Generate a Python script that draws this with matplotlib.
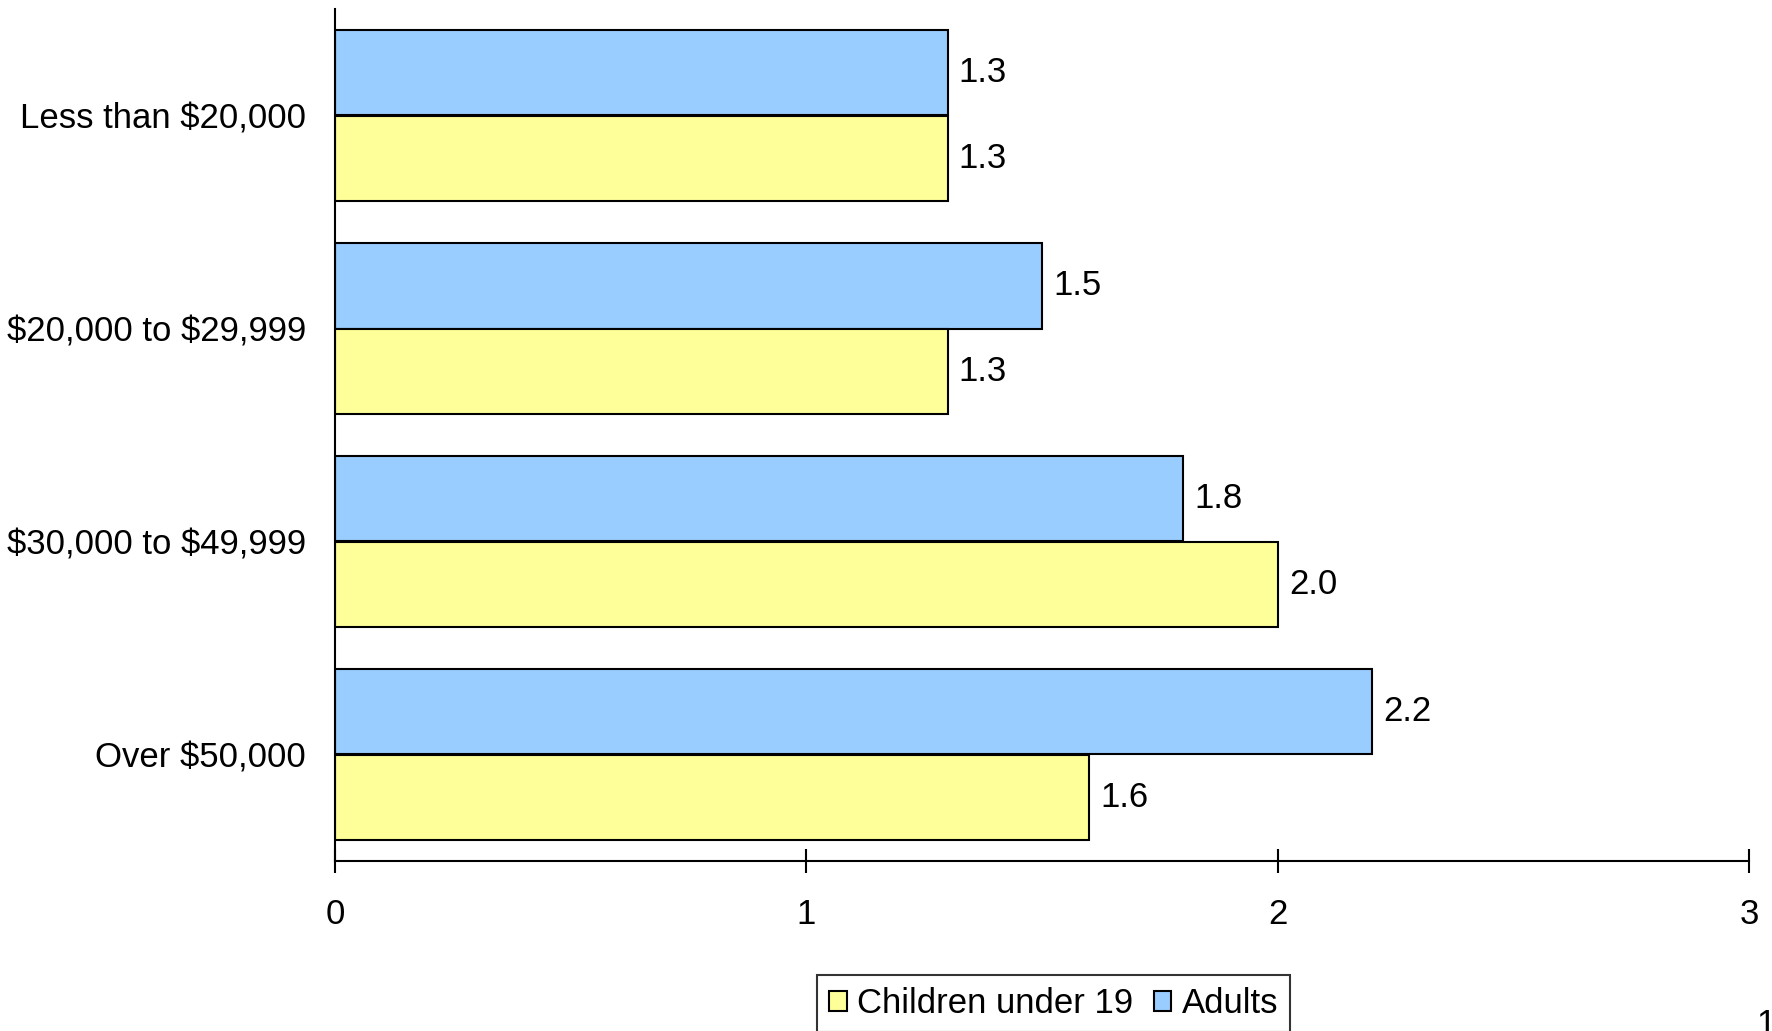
import matplotlib
matplotlib.use("Agg")
import matplotlib.pyplot as plt
import numpy as np
from matplotlib.patches import Patch

categories = ["Less than \\$20,000", "\\$20,000 to \\$29,999", "\\$30,000 to \\$49,999", "Over \\$50,000"]
children = [1.3, 1.3, 2.0, 1.6]
adults = [1.3, 1.5, 1.8, 2.2]
xticks = [0, 1, 2, 3]

plt.rcParams['font.family'] = ['Liberation Sans', 'DejaVu Sans']

W, H = 1772, 1031
fig = plt.figure(figsize=(W / 100, H / 100), dpi=100)
ax = fig.add_axes([335 / W, 1 - 861 / H, (1749 - 335) / W, (861 - 9) / H])

y = np.arange(len(categories))
h = 0.4
blue = "#99CCFF"
yellow = "#FFFF99"
ax.barh(y - h / 2, adults, height=h, color=blue, edgecolor="black", linewidth=1.5)
ax.barh(y + h / 2, children, height=h, color=yellow, edgecolor="black", linewidth=1.5)

fs = 25
for yi, v in zip(y - h / 2, adults):
    ax.annotate(f"{v:.1f}", (v, yi), xytext=(8, 0), textcoords="offset points",
                va="center", ha="left", fontsize=fs)
for yi, v in zip(y + h / 2, children):
    ax.annotate(f"{v:.1f}", (v, yi), xytext=(8, 0), textcoords="offset points",
                va="center", ha="left", fontsize=fs)

ax.set_ylim(len(categories) - 0.5, -0.5)
ax.set_xlim(0, 3)
ax.set_yticks(y)
ax.set_yticklabels(categories, fontsize=fs)
ax.set_xticks(xticks)
ax.set_xticklabels([str(t) for t in xticks], fontsize=fs)
ax.tick_params(axis="y", length=0, pad=21)
ax.tick_params(axis="x", direction="inout", length=17, width=1.5, pad=18)
for s in ["top", "right"]:
    ax.spines[s].set_visible(False)
for s in ["left", "bottom"]:
    ax.spines[s].set_linewidth(1.5)

handles = [Patch(facecolor=yellow, edgecolor="black", linewidth=1.5, label="Children under 19"),
           Patch(facecolor=blue, edgecolor="black", linewidth=1.5, label="Adults")]
leg = fig.legend(handles=handles, loc="upper left", bbox_to_anchor=(817 / W, 1 - 975 / H),
                 ncol=2, fontsize=fs, frameon=True, fancybox=False, handlelength=0.5,
                 handleheight=0.5, handletextpad=0.3, columnspacing=0.6, borderpad=0.35,
                 borderaxespad=0)
leg.get_frame().set_edgecolor("black")
leg.get_frame().set_linewidth(1.5)

fig.text(1756 / W, 1 - 1008 / H, "1", fontsize=fs, ha="left", va="top")

fig.savefig("out.png", dpi=100)
